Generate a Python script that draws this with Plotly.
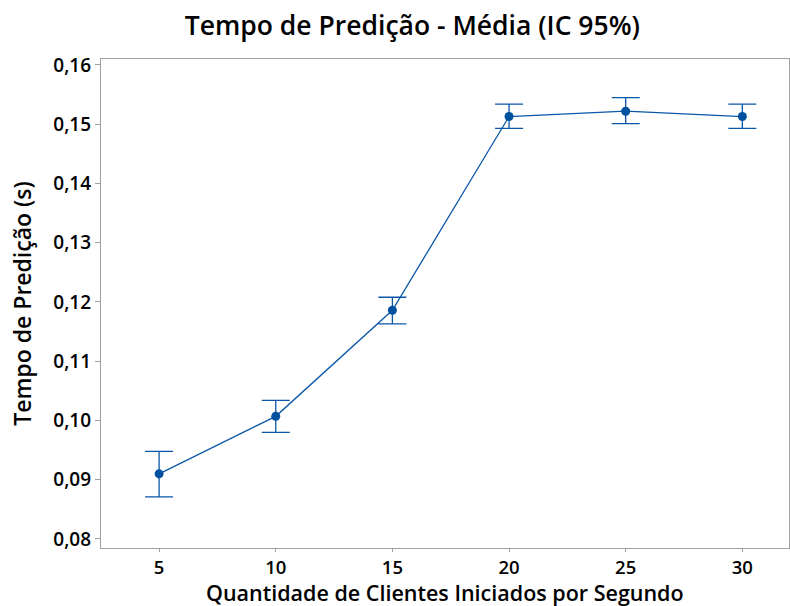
import plotly.graph_objects as go

clientes = [5, 10, 15, 20, 25, 30]
media = [0.0910, 0.1007, 0.1186, 0.1513, 0.1522, 0.1513]
ic_sup = [0.0948, 0.1034, 0.1208, 0.1534, 0.1545, 0.1534]
ic_inf = [0.0871, 0.0980, 0.1163, 0.1493, 0.1501, 0.1493]

err_plus = [s - m for s, m in zip(ic_sup, media)]
err_minus = [m - i for m, i in zip(media, ic_inf)]

cor = "#0A56A8"
fonte = "Open Sans, Noto Sans, sans-serif"

fig = go.Figure()
fig.add_trace(go.Scatter(
    x=clientes, y=media, mode="lines+markers",
    line=dict(color=cor, width=1.3),
    marker=dict(color="#0050A0", size=9),
    error_y=dict(type="data", symmetric=False, array=err_plus, arrayminus=err_minus,
                 color=cor, thickness=1.3, width=14),
    showlegend=False,
))

fig.update_layout(
    width=790, height=606,
    separators=",.",
    paper_bgcolor="white", plot_bgcolor="white",
    margin=dict(l=101, r=1, t=59, b=58, autoexpand=False),
    title=dict(text="Tempo de Predição - Média (IC 95%)", x=0.522, xanchor="center",
               y=0.958, yanchor="middle",
               font=dict(family=fonte, size=26.5, color="black", weight=600)),
    font=dict(family=fonte, color="black"),
    annotations=[dict(
        text="Quantidade de Clientes Iniciados por Segundo",
        xref="paper", yref="paper", x=0.5, y=-0.0035, yshift=-43,
        xanchor="center", yanchor="middle", showarrow=False,
        font=dict(family=fonte, size=21.5, color="black", weight=600),
    )],
)
fig.update_xaxes(
    range=[2.51, 32.0], tickvals=clientes, ticktext=[str(c) for c in clientes],
    showgrid=False, zeroline=False, showline=True, linecolor="#a0a0a0", linewidth=1.2,
    mirror=True, ticks="outside", ticklen=3, tickcolor="#a0a0a0",
    tickfont=dict(family=fonte, size=18.5, color="black", weight=600),
)
fig.update_yaxes(
    range=[0.07848, 0.16101], tickvals=[0.08, 0.09, 0.10, 0.11, 0.12, 0.13, 0.14, 0.15, 0.16],
    tickformat=".2f",
    showgrid=False, zeroline=False, showline=True, linecolor="#a0a0a0", linewidth=1.2,
    mirror=True, ticks="outside", ticklen=5, tickcolor="#a0a0a0",
    tickfont=dict(family=fonte, size=19, color="black", weight=600),
    title=dict(text="Tempo de Predição (s)",
               font=dict(family=fonte, size=23, color="black", weight=600), standoff=15),
)

fig.write_html("out.html", config={"displayModeBar": False},
               post_script="document.body.style.margin='0';")
